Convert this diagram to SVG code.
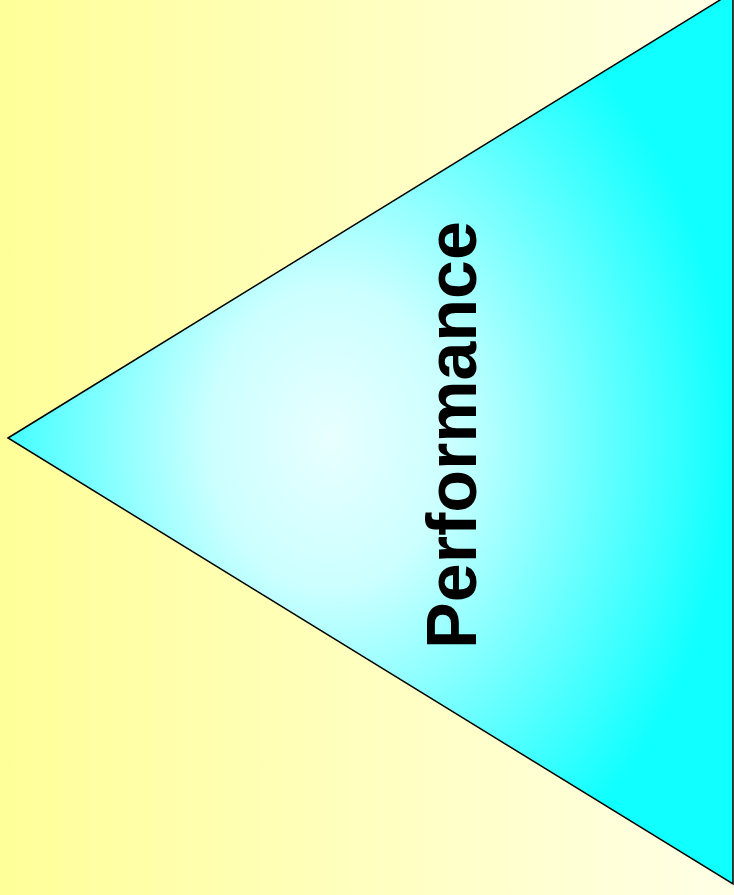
<svg xmlns="http://www.w3.org/2000/svg" width="734" height="895" viewBox="0 0 734 895">
<defs>
<linearGradient id="bg" x1="0" y1="0" x2="1" y2="0">
<stop offset="0" stop-color="#FFFF99"/>
<stop offset="1" stop-color="#FFFFE6"/>
</linearGradient>
<radialGradient id="tri" gradientUnits="userSpaceOnUse" cx="330" cy="438" r="400" gradientTransform="translate(330 438) scale(1 1.25) translate(-330 -438)">
<stop offset="0" stop-color="#E8FFFF"/>
<stop offset="0.3" stop-color="#CCFFFF"/>
<stop offset="0.7" stop-color="#60FFFF"/>
<stop offset="1" stop-color="#10FFFF"/>
</radialGradient>
<style>
.lbl{font-family:"Liberation Sans",Arial,sans-serif;font-weight:bold;font-size:70px;fill:#000}
</style>
</defs>
<rect x="0" y="0" width="734" height="895" fill="url(#bg)"/>
<g id="triangle">
<polygon points="8,438 733,-8 733,884" fill="url(#tri)" stroke="#000" stroke-width="1.5"/>
<text class="lbl" transform="translate(476 435) rotate(-90)" text-anchor="middle">Performance</text>
</g>
</svg>
